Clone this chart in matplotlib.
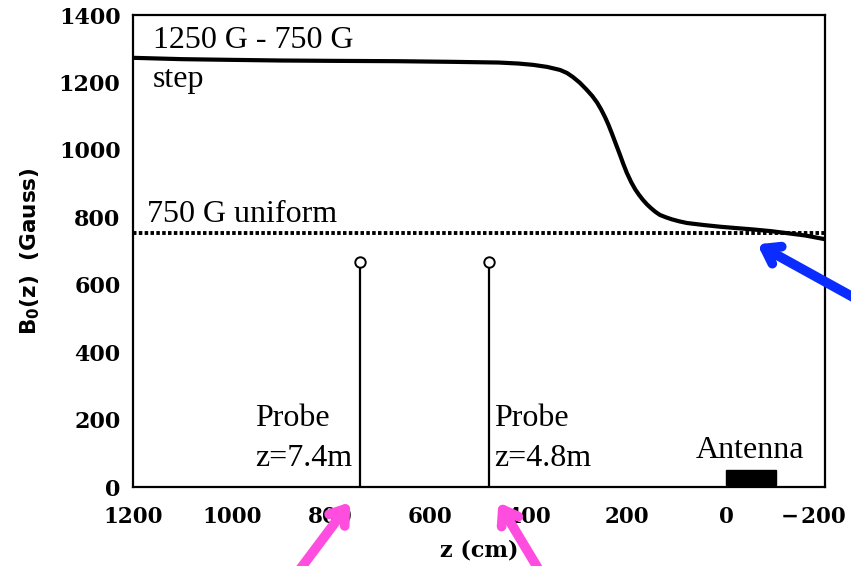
import numpy as np
import matplotlib
matplotlib.use("Agg")
import matplotlib.pyplot as plt
import matplotlib.transforms as mtransforms
from matplotlib.patches import FancyArrowPatch, Rectangle

# === Data ===
z_step = [1200, 1100, 1004, 900, 800, 666, 550, 460, 420, 390, 362, 336, 322, 310,
          296, 282, 271, 261, 253, 245, 238, 231, 223, 215, 208, 201, 192, 184,
          176, 168, 160, 152, 143, 134, 122, 110, 95, 79, 45, 12, -20, -54, -90,
          -123, -160, -200]
b_step = [1273, 1269, 1267, 1265, 1264, 1263, 1261, 1259, 1256, 1252, 1246, 1237,
          1228, 1216, 1199, 1178, 1160, 1140, 1120, 1097, 1074, 1048, 1017, 986,
          958, 932, 904, 883, 866, 851, 838, 827, 816, 807, 800, 794, 788, 783,
          777, 772, 768, 764, 759, 753, 746, 735]

z_uniform = [1200, -200]
b_uniform = [753, 753]

probe_z = [740, 480]
probe_top = [667, 667]
probe_label_z = [953, 470]
probe_labels = ["z=7.4m", "z=4.8m"]

antenna_z = [0, -100]
antenna_b = [5, 50]

x_ticks = [1200, 1000, 800, 600, 400, 200, 0, -200]
y_ticks = [0, 200, 400, 600, 800, 1000, 1200, 1400]

plt.rcParams['mathtext.fontset'] = 'dejavusans'
plt.rcParams['mathtext.default'] = 'bf'

fig = plt.figure(figsize=(8.51, 5.66), dpi=100)
ax = fig.add_axes([133 / 851, 1 - 487 / 566, 692 / 851, 472 / 566])

serif = 'Liberation Serif'
fs = 23

# step field and uniform field
ax.plot(z_uniform, b_uniform, color='black', lw=2.8, linestyle=(0, (0.9, 0.6)),
        dash_capstyle='butt')
ax.plot(z_step, b_step, color='black', lw=3, solid_joinstyle='round')

# probes
for z, top in zip(probe_z, probe_top):
    ax.plot([z, z], [0, top], color='black', lw=1.6)
    ax.plot(z, top, 'o', mfc='white', mec='black', mew=1.4, ms=7.5)
for z, lab in zip(probe_label_z, probe_labels):
    ax.text(z, 181, "Probe", ha='left', va='baseline', fontsize=fs, family=serif)
    ax.text(z, 62, lab, ha='left', va='baseline', fontsize=fs, family=serif)

# antenna
ax.add_patch(Rectangle((antenna_z[0], antenna_b[0]), antenna_z[1] - antenna_z[0],
                       antenna_b[1] - antenna_b[0], color='black'))
ax.text(np.mean(antenna_z) + 2, 86, "Antenna", ha='center', va='baseline',
        fontsize=fs, family=serif)

# curve labels
ax.text(1160, 1302, "1250 G - 750 G", ha='left', va='baseline', fontsize=fs,
        family=serif)
ax.text(1160, 1187, "step", ha='left', va='baseline', fontsize=fs, family=serif)
ax.text(1172, 786, "750 G uniform", ha='left', va='baseline', fontsize=fs,
        family=serif)

ax.set_xlim(1200, -200)
ax.set_ylim(0, 1400)
ax.set_xticks(x_ticks)
ax.set_yticks(y_ticks)
ax.set_xticklabels([str(t).replace('-', '\u2212\u200a') for t in x_ticks],
                   family='DejaVu Serif', fontsize=15.5, fontweight='bold')
ax.set_yticklabels([str(t) for t in y_ticks], family='DejaVu Serif',
                   fontsize=16, fontweight='bold')
ax.tick_params(length=0, pad=14)
ax.tick_params(axis='y', pad=9)
# last x label sits a bit to the left so it stays inside the picture
last = ax.get_xticklabels()[-1]
last.set_transform(last.get_transform() +
                   mtransforms.ScaledTranslation(-12 / 100, 0, fig.dpi_scale_trans))
for s in ax.spines.values():
    s.set_linewidth(1.6)

ax.set_xlabel("z (cm)", family='DejaVu Serif', fontweight='bold', fontsize=16,
              labelpad=8)
ax.set_ylabel("B$_0$(z)  (Gauss)", family='DejaVu Sans', fontweight='bold',
              fontsize=15.5, labelpad=12)

# overlay arrows (figure pixels, origin bottom-left)
H = 566
arrows = [((880, H - 312), (755, H - 243), '#0a2cff'),
          ((292, H - 580), (352, H - 500), '#ff4de0'),
          ((545, H - 580), (497, H - 500), '#ff4de0')]
for tail, head, col in arrows:
    fig.add_artist(FancyArrowPatch(tail, head, transform=None,
                                   arrowstyle='->,head_length=10,head_width=7',
                                   color=col, lw=7, capstyle='round',
                                   joinstyle='round', mutation_scale=1,
                                   clip_on=False))

fig.savefig("out.png", dpi=100)
